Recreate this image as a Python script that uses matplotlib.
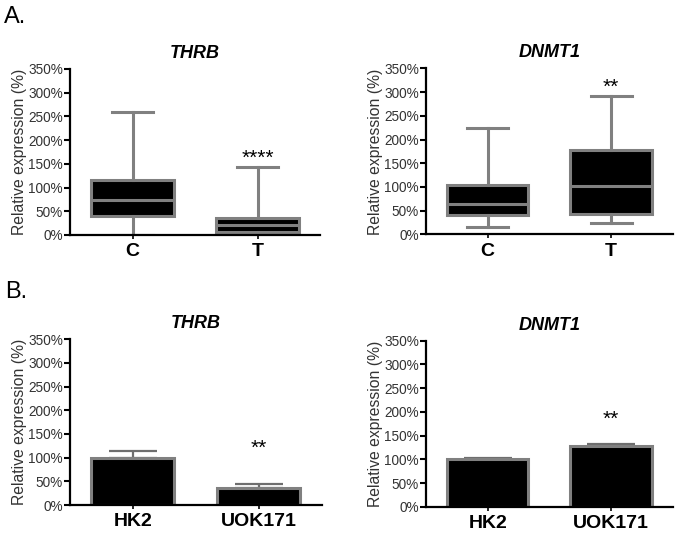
import numpy as np
import matplotlib
matplotlib.use('Agg')
import matplotlib.pyplot as plt
from matplotlib.ticker import FuncFormatter

plt.rcParams['font.family'] = ['Liberation Sans', 'DejaVu Sans']

# A: box plots (values in %)
box_groups = ['C', 'T']
thrb_whislo = [0, 3]
thrb_q1 = [40, 7]
thrb_med = [74, 20]
thrb_q3 = [116, 35]
thrb_whishi = [260, 143]

dnmt1_whislo = [15, 25]
dnmt1_q1 = [41, 44]
dnmt1_med = [65, 102]
dnmt1_q3 = [105, 178]
dnmt1_whishi = [225, 291]

# B: bar charts (mean and upper error, %)
cell_lines = ['HK2', 'UOK171']
thrb_mean = [100, 37]
thrb_err = [14, 7]
dnmt1_mean = [100, 129]
dnmt1_err = [3, 4]

gray = '#808080'
yticks = np.arange(0, 351, 50)


def style_axes(ax, title):
    ax.spines['top'].set_visible(False)
    ax.spines['right'].set_visible(False)
    ax.spines['left'].set_linewidth(1.6)
    ax.spines['bottom'].set_linewidth(1.6)
    ax.set_ylim(0, 350)
    ax.set_xlim(-0.5, 1.5)
    ax.set_yticks(yticks)
    ax.yaxis.set_major_formatter(FuncFormatter(lambda v, p: '%d%%' % v))
    ax.tick_params(axis='y', length=4, width=1.5, labelsize=9.8, labelcolor='#333333', pad=1)
    ax.tick_params(axis='x', length=3, width=1.2, labelsize=14, pad=3)
    for lab in ax.get_xticklabels():
        lab.set_fontweight('bold')
    ax.set_ylabel('Relative expression (%)', fontsize=11.3, color='#333333', labelpad=1)
    ax.set_title(title, fontsize=13, fontweight='bold', style='italic', pad=8)


def draw_box(ax, whislo, q1, med, q3, whishi):
    stats = []
    for i in range(len(box_groups)):
        stats.append({'whislo': whislo[i], 'q1': q1[i], 'med': med[i],
                      'q3': q3[i], 'whishi': whishi[i], 'fliers': []})
    ax.bxp(stats, positions=[0, 1], widths=0.66, patch_artist=True, showfliers=False,
           boxprops=dict(facecolor='black', edgecolor=gray, linewidth=2.2),
           medianprops=dict(color=gray, linewidth=2.2),
           whiskerprops=dict(color=gray, linewidth=2.2),
           capprops=dict(color=gray, linewidth=2.2), capwidths=0.33)
    ax.set_xticks([0, 1])
    ax.set_xticklabels(box_groups)


def draw_bar(ax, mean, err):
    x = np.arange(len(cell_lines))
    ax.bar(x, mean, width=0.66, color='black', edgecolor=gray, linewidth=2.2, zorder=2)
    ax.errorbar(x, mean, yerr=[np.zeros(len(err)), err], fmt='none', ecolor='#6e6e6e',
                elinewidth=1.6, capsize=17, capthick=1.6, zorder=1)
    ax.set_xticks(x)
    ax.set_xticklabels(cell_lines)


fig = plt.figure(figsize=(6.82, 5.34), dpi=100)
ax1 = fig.add_axes([0.1026, 0.560, 0.367, 0.311])
ax2 = fig.add_axes([0.6246, 0.561, 0.362, 0.311])
ax3 = fig.add_axes([0.1026, 0.054, 0.369, 0.311])
ax4 = fig.add_axes([0.6246, 0.051, 0.362, 0.311])

draw_box(ax1, thrb_whislo, thrb_q1, thrb_med, thrb_q3, thrb_whishi)
style_axes(ax1, 'THRB')
ax1.text(1, 162, '****', ha='center', va='center', fontsize=15)

draw_box(ax2, dnmt1_whislo, dnmt1_q1, dnmt1_med, dnmt1_q3, dnmt1_whishi)
style_axes(ax2, 'DNMT1')
ax2.text(1, 311, '**', ha='center', va='center', fontsize=15)

draw_bar(ax3, thrb_mean, thrb_err)
style_axes(ax3, 'THRB')
ax3.text(1, 120, '**', ha='center', va='center', fontsize=15)

draw_bar(ax4, dnmt1_mean, dnmt1_err)
style_axes(ax4, 'DNMT1')
ax4.text(1, 185, '**', ha='center', va='center', fontsize=15)

fig.text(0.006, 0.968, 'A.', fontsize=17, ha='left', va='center')
fig.text(0.008, 0.454, 'B.', fontsize=17, ha='left', va='center')

fig.savefig('out.png', dpi=100)
